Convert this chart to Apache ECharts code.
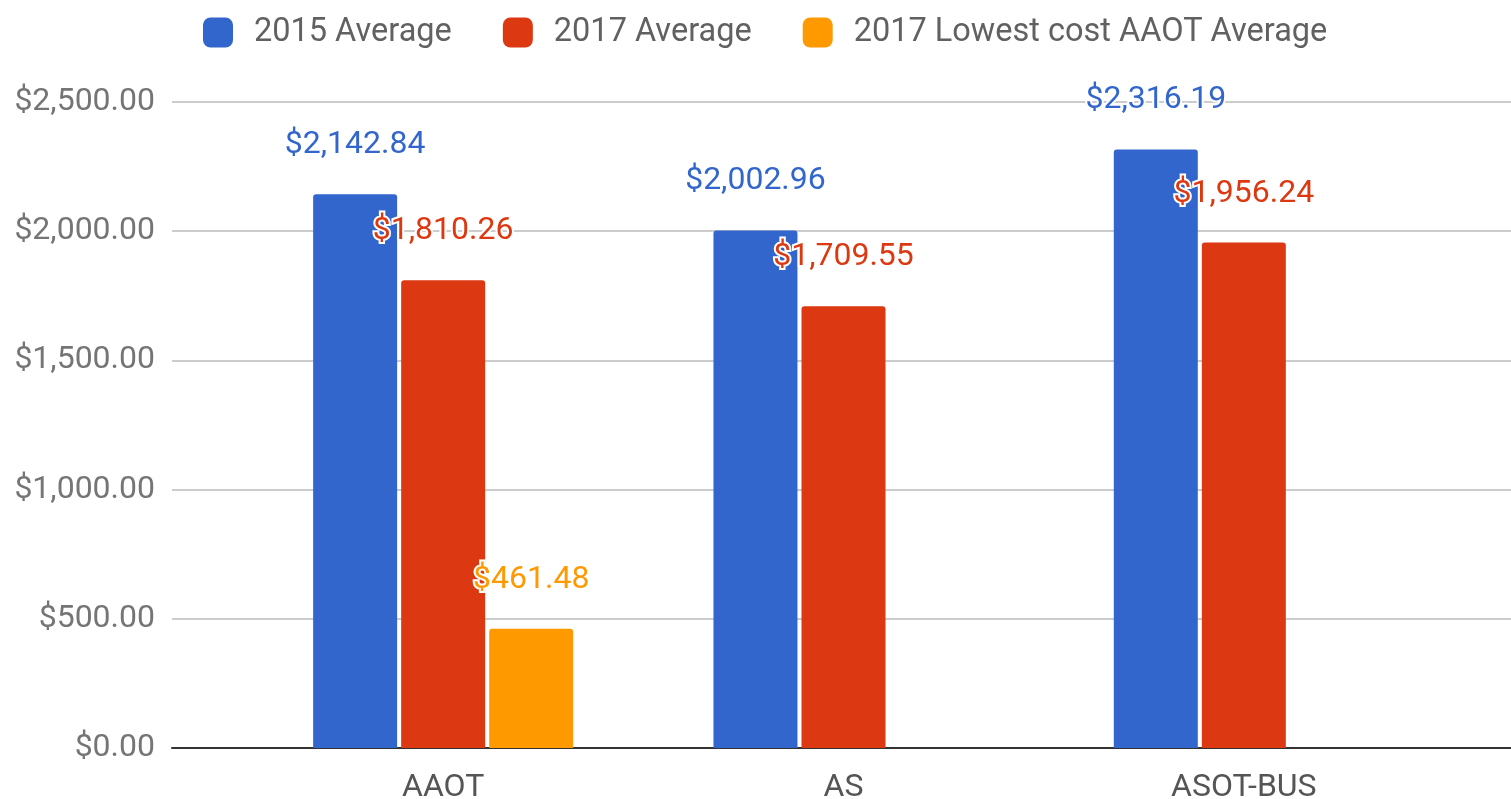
<!DOCTYPE html>
<html>
<head>
<meta charset="utf-8">
<script src="https://cdn.jsdelivr.net/npm/echarts@6/dist/echarts.min.js"></script>
<style>
  html, body { margin: 0; padding: 0; background: #fff; }
  #chart { width: 1511px; height: 799px; }
</style>
</head>
<body>
<div id="chart"></div>
<script>
// data
const categories = ['AAOT', 'AS', 'ASOT-BUS'];
const seriesNames = ['2015 Average', '2017 Average', '2017 Lowest cost AAOT Average'];
const avg2015 = [2142.84, 2002.96, 2316.19];
const avg2017 = [1810.26, 1709.55, 1956.24];
const lowest2017 = [461.48, null, null];
const colors = ['#3366CC', '#DC3912', '#FF9900'];

const money = v => '$' + Number(v).toLocaleString('en-US', { minimumFractionDigits: 2, maximumFractionDigits: 2 });

const chart = echarts.init(document.getElementById('chart'));

const makeSeries = (name, data, color) => ({
  name: name,
  type: 'bar',
  xAxisIndex: 1,
  yAxisIndex: 1,
  data: data,
  barWidth: 84,
  barGap: '4.8%',
  itemStyle: { color: color, borderRadius: [3, 3, 0, 0] },
  label: {
    show: true,
    position: 'top',
    distance: 33,
    color: color,
    fontFamily: 'Roboto',
    fontSize: 32,
    textBorderColor: '#fff',
    textBorderWidth: 4,
    formatter: p => money(p.value)
  }
});

const option = {
  animation: false,
  textStyle: { fontFamily: 'Roboto' },
  legend: {
    top: 11,
    left: 198,
    itemWidth: 30,
    itemHeight: 30,
    itemGap: 51,
    icon: 'roundRect',
    data: seriesNames,
    textStyle: { color: '#616161', fontSize: 32.5, fontFamily: 'Roboto', padding: [0, 0, 0, 16] }
  },
  grid: [
    // outer grid: gridlines, y labels, baseline
    { left: 172, right: 0, top: 102, bottom: 51, outerBoundsMode: 'none' },
    // inner grid: bars and category labels
    { left: 243, right: 67, top: 102, bottom: 51, outerBoundsMode: 'none' }
  ],
  xAxis: [
    {
      gridIndex: 0,
      type: 'value',
      min: 0,
      max: 1,
      axisLine: { show: true, lineStyle: { color: '#333', width: 2 } },
      axisTick: { show: false },
      axisLabel: { show: false },
      splitLine: { show: false }
    },
    {
      gridIndex: 1,
      type: 'category',
      data: categories,
      axisLine: { show: false },
      axisTick: { show: false },
      axisLabel: { color: '#555', fontSize: 32, margin: 24 }
    }
  ],
  yAxis: [
    {
      gridIndex: 0,
      type: 'value',
      min: 0,
      max: 2500,
      interval: 500,
      axisLine: { show: false },
      axisTick: { show: false },
      axisLabel: { color: '#757575', fontSize: 32, margin: 17, formatter: v => money(v) },
      splitLine: { lineStyle: { color: '#ccc', width: 2 } }
    },
    {
      gridIndex: 1,
      type: 'value',
      min: 0,
      max: 2500,
      show: false
    }
  ],
  series: [
    makeSeries(seriesNames[0], avg2015, colors[0]),
    makeSeries(seriesNames[1], avg2017, colors[1]),
    makeSeries(seriesNames[2], lowest2017, colors[2])
  ]
};

chart.setOption(option);
window.addEventListener('resize', () => chart.resize());
</script>
</body>
</html>
